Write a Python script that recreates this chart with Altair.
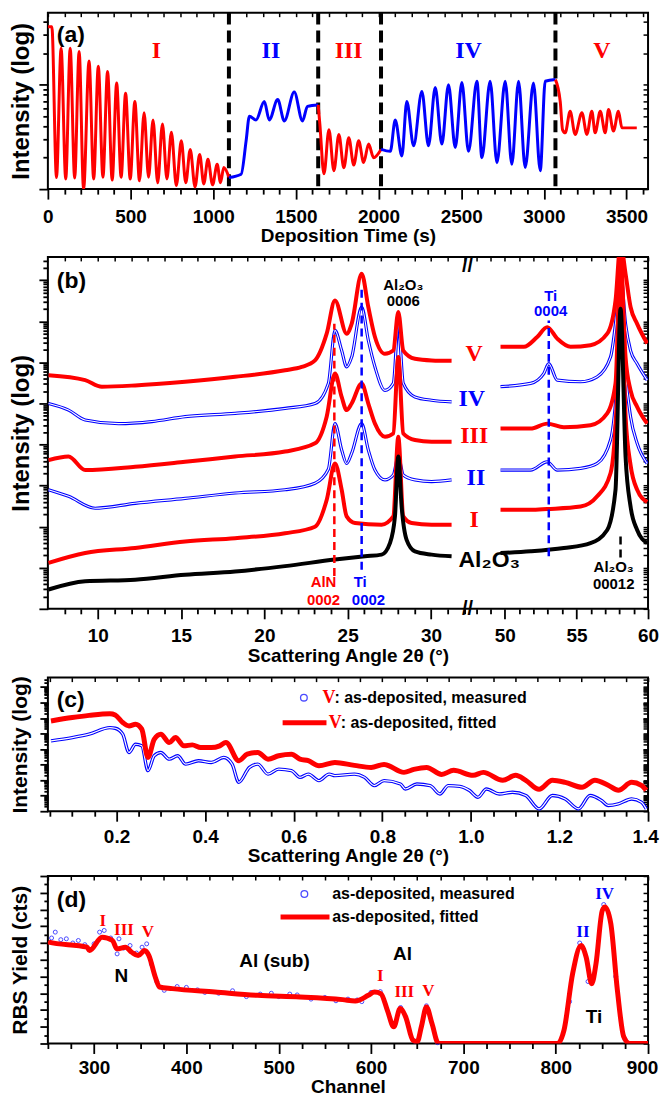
import math
import altair as alt
import pandas as pd

RED = "#ff0000"
BLUE = "#0000ff"
BLK = "#000000"
SANS = "Liberation Sans"
SERIF = "Liberation Serif"

W = 602
HA, HB, HC, HD = 177, 353, 134, 168

# ======================= (a) intensity vs deposition time =======================
a_I_peak_t = [24, 80, 135, 189, 249, 305, 361, 416, 470, 526, 582, 636, 693, 747, 807, 861, 918, 968, 1024, 1064]
a_I_peak_v = [36, 22.4, 22.4, 20.8, 16.9, 15.0, 13.4, 10.4, 8.3, 6.9, 5.4, 4.6, 4.2, 3.5, 2.9, 2.4, 2.15, 1.93, 1.73, 1.61]
a_I_trough_t = [52, 108, 162, 216, 277, 333, 389, 443, 498, 554, 609, 664, 720, 777, 834, 890, 943, 996, 1044]
a_I_trough_v = [1.29, 1.25, 1.28, 1.0, 1.25, 1.3, 1.22, 1.3, 1.25, 1.2, 1.3, 1.15, 1.25, 1.08, 1.15, 1.05, 1.12, 1.1, 1.15]
a_I_end_t = [0, 1095]
a_I_end_v = [36, 1.3]
a_II_t = [1095, 1169, 1199, 1219, 1259, 1309, 1339, 1390, 1430, 1490, 1540, 1570, 1635]
a_II_v = [1.29, 1.39, 2.9, 5.0, 4.6, 6.9, 4.6, 7.2, 4.5, 8.5, 4.5, 6.2, 6.4]
a_III_t = [1635, 1645, 1670, 1700, 1730, 1760, 1790, 1820, 1850, 1880, 1910, 1940, 1970, 2015]
a_III_v = [6.4, 4.2, 1.4, 3.7, 1.5, 3.34, 1.6, 3.1, 1.7, 2.9, 1.8, 2.7, 2.0, 2.4]
a_IV_t = [2015, 2071, 2101, 2141, 2171, 2212, 2262, 2302, 2343, 2383, 2423, 2464, 2504, 2544,
          2595, 2625, 2675, 2716, 2766, 2806, 2847, 2887, 2937, 2978, 3008, 3070]
a_IV_v = [2.4, 2.3, 4.6, 2.08, 6.9, 2.6, 8.6, 2.6, 9.4, 2.7, 10.0, 2.5, 10.5, 2.3,
          10.8, 2.0, 10.8, 1.79, 10.8, 1.73, 10.8, 1.61, 10.4, 1.5, 10.8, 11.2]
a_V_t = [3070, 3099, 3113, 3129, 3159, 3189, 3230, 3260, 3290, 3310, 3341, 3371, 3391, 3421, 3451, 3472, 3562]
a_V_v = [11.2, 6.9, 3.7, 3.46, 5.56, 3.34, 5.4, 3.34, 5.56, 3.46, 5.56, 3.46, 5.8, 3.6, 5.56, 3.86, 3.86]
a_dash_t = [1095, 1635, 2015, 3070]
a_lab_text = ["I", "II", "III", "IV", "V"]
a_lab_t = [657, 1349, 1819, 2544, 3351]
a_lab_v = [20.8, 20.8, 20.8, 20.8, 20.8]
a_lab_col = [RED, BLUE, RED, BLUE, RED]

# ======================= (b) XRD, broken axis =======================
BRK_L, BRK_R, RATIO = 32.2, 47.4, 0.86
b_K_L_deg = [7.04, 9.24, 12.24, 15.24, 18.24, 21.24, 24.24, 26.04, 27.04, 27.54, 27.84, 28.04, 28.24, 28.54, 29.04, 30.04, 31.24]
b_K_L_lg = [0.47, 0.67, 0.71, 0.83, 0.91, 1.04, 1.2, 1.28, 1.32, 1.6, 2.25, 3.71, 2.49, 1.68, 1.4, 1.32, 1.28]
b_K_R_deg = [49.7, 51.8, 54.12, 55.98, 57.15, 57.73, 58.08, 58.43, 58.78, 59.24, 59.94]
b_K_R_lg = [1.36, 1.4, 1.48, 1.6, 1.92, 2.9, 7.31, 3.71, 2.49, 1.92, 1.6]

b_I_L_deg = [7.04, 9.24, 12.24, 15.24, 18.24, 21.24, 23.04, 23.74, 24.24, 24.64, 24.94, 25.44, 27.04, 27.74, 28.04, 28.34, 28.84, 30.04, 31.24]
b_I_L_lg = [1.12, 1.36, 1.48, 1.64, 1.72, 1.84, 2.0, 2.65, 3.54, 2.9, 2.25, 2.09, 2.05, 2.25, 4.19, 2.25, 2.09, 2.05, 2.05]
b_I_R_deg = [49.7, 51.8, 52.96, 55.29, 56.45, 57.38, 57.85, 58.08, 58.43, 58.78, 59.24, 59.94]
b_I_R_lg = [2.41, 2.41, 2.43, 2.49, 2.74, 3.3, 5.32, 8.6, 4.7, 3.5, 2.9, 2.6]

b_II_L_deg = [7.04, 8.24, 9.84, 12.24, 15.24, 18.24, 21.24, 23.04, 23.84, 24.24, 24.64, 24.94, 25.24, 25.84, 26.24, 26.64, 27.24, 27.74, 28.04, 28.34, 29.04, 30.04, 31.24]
b_II_L_lg = [2.9, 2.74, 2.45, 2.57, 2.69, 2.82, 2.9, 3.06, 3.4, 4.51, 3.87, 3.54, 3.79, 4.51, 3.87, 3.38, 3.14, 3.26, 3.71, 3.26, 3.14, 3.1, 3.14]
b_II_R_deg = [49.7, 51.8, 52.96, 53.66, 55.29, 56.45, 57.38, 57.85, 58.08, 58.43, 58.78, 59.24, 59.94]
b_II_R_lg = [3.38, 3.38, 3.58, 3.38, 3.42, 3.54, 4.11, 5.73, 8.0, 5.73, 4.68, 4.03, 3.54]

b_III_L_deg = [7.04, 8.24, 9.24, 12.24, 15.24, 18.24, 21.24, 23.04, 23.74, 24.24, 24.64, 24.94, 25.24, 25.84, 26.24, 26.64, 27.24, 27.74, 28.04, 28.34, 29.04, 30.04, 31.24]
b_III_L_lg = [3.62, 3.71, 3.38, 3.46, 3.58, 3.71, 3.83, 4.03, 4.68, 5.73, 5.16, 4.84, 5.0, 5.49, 5.0, 4.51, 4.19, 4.27, 6.13, 4.27, 4.11, 4.07, 4.07]
b_III_R_deg = [49.7, 51.8, 52.96, 54.12, 55.98, 57.15, 57.73, 58.08, 58.43, 58.78, 59.24, 59.94]
b_III_R_lg = [4.39, 4.39, 4.51, 4.42, 4.47, 4.76, 5.49, 8.6, 6.13, 5.32, 4.92, 4.51]

b_IV_L_deg = [7.04, 8.24, 9.24, 11.24, 13.24, 15.24, 18.24, 21.24, 23.04, 23.84, 24.24, 24.64, 24.94, 25.24, 25.84, 26.24, 26.64, 27.24, 27.74, 28.04, 28.34, 29.04, 30.04, 31.24]
b_IV_L_lg = [5.0, 4.84, 4.6, 4.51, 4.56, 4.68, 4.76, 4.88, 5.0, 5.49, 6.78, 6.29, 5.89, 6.13, 7.35, 6.54, 5.89, 5.32, 5.49, 6.94, 5.49, 5.16, 5.08, 5.04]
b_IV_R_deg = [49.7, 51.8, 52.72, 53.07, 53.66, 55.29, 56.45, 57.38, 57.85, 58.08, 58.43, 58.78, 59.24, 59.94]
b_IV_R_lg = [5.41, 5.49, 5.73, 5.97, 5.57, 5.53, 5.65, 6.13, 7.35, 8.2, 6.94, 6.29, 5.97, 5.57]

b_V_L_deg = [7.04, 9.24, 10.24, 12.24, 15.24, 18.24, 21.24, 22.24, 23.04, 23.74, 24.24, 24.94, 25.24, 25.84, 26.24, 26.64, 27.24, 27.74, 28.04, 28.34, 29.04, 30.04, 31.24]
b_V_L_lg = [5.69, 5.57, 5.41, 5.44, 5.53, 5.65, 5.81, 5.89, 6.05, 6.7, 7.51, 6.7, 6.94, 8.16, 7.35, 6.62, 6.21, 6.29, 7.23, 6.29, 6.09, 6.05, 6.04]
b_V_R_deg = [49.7, 51.33, 52.26, 52.96, 53.66, 54.59, 55.98, 57.15, 57.73, 58.08, 58.43, 58.78, 59.24, 59.94]
b_V_R_lg = [6.38, 6.38, 6.62, 6.86, 6.58, 6.38, 6.42, 6.7, 7.51, 8.9, 8.16, 7.35, 6.94, 6.46]

b_dash_deg = [24.2, 25.84, 53.07, 58.08]
b_dash_lo = [0.8, 0.95, 1.28, 1.25]
b_dash_hi = [6.94, 7.84, 7.02, 1.84]
b_dash_col = [RED, BLUE, BLUE, BLK]

b_small_text = ["Al\u2082O\u2083", "0006", "Ti", "0004", "AlN", "0002", "Ti", "0002", "Al\u2082O\u2083", "00012"]
b_small_deg = [28.34, 28.34, 53.2, 53.2, 23.55, 23.55, 25.75, 26.25, 57.6, 57.6]
b_small_lg = [7.89, 7.5, 7.62, 7.25, 0.66, 0.22, 0.66, 0.22, 1.02, 0.6]
b_small_col = [BLK, BLK, BLUE, BLUE, RED, RED, BLUE, BLUE, BLK, BLK]
b_roman_text = ["V", "IV", "III", "II", "I"]
b_roman_u = [32.6, 32.45, 32.6, 32.7, 32.6]
b_roman_lg = [6.21, 5.12, 4.2, 3.18, 2.16]
b_roman_col = [RED, BLUE, RED, BLUE, RED]

# ======================= (c) XRR =======================
c_fit_x = [0.052, 0.10, 0.138, 0.185, 0.197, 0.214, 0.228, 0.243, 0.257, 0.271, 0.285, 0.30, 0.319, 0.333, 0.352,
           0.371, 0.39, 0.414, 0.433, 0.447, 0.476, 0.495, 0.519, 0.542, 0.566, 0.595, 0.614, 0.633, 0.657, 0.693,
           0.737, 0.775, 0.804, 0.849, 0.871, 0.9, 0.934, 0.961, 1.005, 1.028, 1.072, 1.101, 1.124, 1.154, 1.184,
           1.213, 1.251, 1.28, 1.31, 1.333, 1.363, 1.385, 1.396]
c_fit_lg = [5.81, 6.03, 6.17, 6.28, 6.2, 5.71, 5.49, 5.6, 5.28, 3.46, 4.63, 4.96, 4.42, 4.74, 4.21,
            4.27, 4.1, 4.1, 4.21, 4.42, 3.25, 3.67, 3.78, 3.35, 3.57, 3.67, 3.35, 3.25, 2.93, 3.14,
            2.95, 2.82, 3.01, 2.5, 2.69, 2.82, 2.37, 2.63, 2.31, 2.5, 1.99, 2.31, 1.99, 1.41, 1.99,
            1.86, 1.54, 1.99, 1.67, 1.35, 1.86, 1.67, 1.35]
c_meas_x = [0.052, 0.10, 0.138, 0.185, 0.197, 0.214, 0.228, 0.243, 0.257, 0.271, 0.285, 0.30, 0.319, 0.338, 0.356,
            0.385, 0.414, 0.442, 0.461, 0.476, 0.50, 0.519, 0.542, 0.566, 0.595, 0.614, 0.633, 0.657, 0.68, 0.693,
            0.737, 0.76, 0.782, 0.804, 0.841, 0.852, 0.878, 0.908, 0.93, 0.949, 0.975, 0.997, 1.016, 1.035, 1.064,
            1.094, 1.124, 1.154, 1.184, 1.213, 1.243, 1.269, 1.295, 1.31, 1.333, 1.363, 1.385, 1.396]
c_meas_lg = [4.53, 4.74, 4.96, 5.38, 5.34, 4.96, 3.78, 4.31, 4.21, 2.61, 3.57, 3.78, 3.35, 3.57, 3.03,
             3.25, 3.14, 3.46, 3.03, 1.86, 2.82, 3.03, 2.39, 2.71, 2.61, 2.18, 2.39, 1.97, 2.39, 2.29,
             2.39, 2.18, 1.65, 1.97, 1.75, 1.43, 1.75, 1.65, 1.11, 1.65, 1.6, 1.33, 0.9, 1.43, 1.11,
             1.22, 1.01, 0.15, 1.01, 0.79, 0.15, 1.01, 0.69, 0.37, 0.47, 0.79, 0.58, 0.15]

# ======================= (d) RBS =======================
d_fit_ch = [250, 251, 292.5, 295, 308.7, 320, 324.8, 334, 340.8, 347.8, 354.8, 359.4, 366.3, 370.9, 384.7,
            430.9, 477, 523, 569.2, 583, 597, 603.8, 610.7, 617.7, 624.6, 631.5, 637.5, 645.3, 650, 654.5,
            660, 666, 673, 802, 809, 818.3, 827.5, 833, 839, 843.6, 850.5, 853.5, 859.7, 866.8, 873.7, 880, 900]
d_fit_y = [12.2, 12.1, 11.5, 11.1, 12.7, 12.3, 11.3, 11.5, 10.9, 10.5, 11.1, 10.5, 7.94, 6.75, 6.55,
           6.15, 5.75, 5.56, 5.24, 5.08, 5.75, 6.15, 5.95, 3.96, 1.99, 4.17, 3.18, 0.4, 0.2, 2.0,
           4.37, 2.38, 0, 0, 1.59, 8.33, 11.7, 10.3, 7.14, 9.5, 15.9, 16.3, 14.3, 6.35, 0.8, 0, 0]
d_meas_ch = [254, 258, 264, 270, 277, 283, 290, 300, 306, 311, 318, 325, 327, 332, 339, 346, 352, 357, 362,
             368, 376, 390, 400, 412, 420, 435, 450, 465, 480, 492, 500, 512, 520, 535, 550, 562, 575,
             585, 590, 600, 610, 625, 632, 647, 660, 672, 815, 826, 835, 852, 865, 875]
d_meas_y = [12.6, 13.3, 12.4, 12.5, 12.0, 12.3, 11.8, 11.9, 13.3, 13.5, 12.6, 10.7, 12.5, 11.4, 11.7, 10.8, 11.5,
            11.9, 9.5, 7.4, 6.35, 6.8, 6.7, 6.4, 6.1, 6.0, 6.3, 5.6, 5.9, 6.0, 5.6, 5.9, 5.8, 5.3, 5.5, 5.1, 5.3,
            5.2, 5.0, 6.1, 6.2, 2.2, 4.3, 0.3, 4.5, 0.1, 5.0, 12.0, 7.4, 16.6, 8.0, 0.5]
d_lab_text = ["I", "III", "V", "N", "Al (sub)", "Al", "I", "III", "V", "II", "IV", "Ti"]
d_lab_ch = [309.5, 332.4, 358.4, 329.7, 495.4, 634, 610, 636, 662, 829.5, 853, 841.4]
d_lab_y = [14.6, 13.5, 13.3, 8.0, 9.9, 10.7, 8.0, 6.2, 6.3, 13.3, 17.9, 3.2]
d_lab_col = [RED, RED, RED, BLK, BLK, BLK, RED, RED, RED, BLUE, BLUE, BLK]
d_lab_serif = [True, True, True, False, False, False, True, True, True, True, True, False]


# ======================= helpers =======================
def cond(test, a, b):
    return {"condition": {"test": test, "value": a}, "value": b}


def axis_main(orient, values, major, fmt=None, title=None, tsize=19, big=10, small=5, tpad=1,
              lpad=8, last=None, loff=0):
    kw = dict(orient=orient, values=values, grid=False, domain=False, ticks=True, minExtent=0,
              tickColor=BLK, tickWidth=1.8, tickSize=cond(major, big, small))
    if fmt:
        kw.update(labels=True, labelExpr=f"({major}) ? {fmt} : ''", labelFontSize=19, labelPadding=lpad,
                  labelFont=SANS, labelFontWeight="bold", labelColor=BLK,
                  labelOverlap=False, labelFlush=False)
        if last:
            kw["labelOffset"] = cond(last, loff, 0)
    else:
        kw.update(labels=False)
    if title:
        kw.update(title=title, titleFontSize=tsize, titleFont=SANS, titleFontWeight="bold",
                  titlePadding=tpad, titleColor=BLK)
    else:
        kw["title"] = None
    return alt.Axis(**kw)


def axis_mirror(orient, values, size=5):
    return alt.Axis(orient=orient, values=values, grid=False, domain=False, ticks=True, tickColor=BLK,
                    tickWidth=1.5, tickSize=size, offset=-size, labels=False, title=None,
                    minExtent=0, maxExtent=0)


def frame(xs, ys, xm, ym, bottom, left, top, right):
    d = pd.DataFrame({"fx": [xm], "fy": [ym]})
    l1 = alt.Chart(d).mark_point(opacity=0).encode(
        x=alt.X("fx:Q", scale=xs, axis=bottom), y=alt.Y("fy:Q", scale=ys, axis=left))
    l2 = alt.Chart(d).mark_point(opacity=0).encode(
        x=alt.X("fx:Q", scale=xs, axis=top), y=alt.Y("fy:Q", scale=ys, axis=right))
    return [l1, l2]


def xy(xf, yf, xs, ys):
    return dict(x=alt.X(xf, scale=xs, axis=None), y=alt.Y(yf, scale=ys, axis=None))


def lgticks(top):
    out = []
    for dd in range(0, 10):
        for k in range(1, 10):
            v = dd + math.log10(k)
            if v <= top + 1e-9:
                out.append(round(v, 5))
    return out


LG_MAJOR = "abs(datum.value - round(datum.value)) < 0.0001"

# ======================= panel (a) =======================
xa = alt.Scale(domain=[0, 3630], nice=False, zero=False)
ya = alt.Scale(type="log", domain=[1, 49], nice=False)

rows = []


def add_seg(name, col, ts, vs):
    for i, (t, v) in enumerate(sorted(zip(ts, vs))):
        rows.append({"seg": name, "col": col, "i": i, "t": t, "v": v})


add_seg("I", RED, a_I_peak_t + a_I_trough_t + a_I_end_t, a_I_peak_v + a_I_trough_v + a_I_end_v)
add_seg("II", BLUE, a_II_t, a_II_v)
add_seg("III", RED, a_III_t, a_III_v)
add_seg("IV", BLUE, a_IV_t, a_IV_v)
add_seg("V", RED, a_V_t, a_V_v)
df_a = pd.DataFrame(rows)

a_lines = alt.Chart(df_a).mark_line(strokeWidth=3, interpolate="monotone", clip=True).encode(
    **xy("t:Q", "v:Q", xa, ya), color=alt.Color("col:N", scale=None), detail="seg:N", order="i:Q")
a_dash = alt.Chart(pd.DataFrame({"t": a_dash_t})).mark_rule(
    color=BLK, strokeWidth=4, strokeDash=[12, 6]).encode(
    x=alt.X("t:Q", scale=xa, axis=None), y=alt.value(0), y2=alt.value(HA))
a_lab = alt.Chart(pd.DataFrame({"t": a_lab_t, "v": a_lab_v, "txt": a_lab_text, "col": a_lab_col})).mark_text(
    font=SERIF, fontWeight="bold", fontSize=24).encode(
    **xy("t:Q", "v:Q", xa, ya), text="txt:N", color=alt.Color("col:N", scale=None))
a_tag = alt.Chart(pd.DataFrame({"t": [54], "v": [30], "txt": ["(a)"]})).mark_text(
    font=SANS, fontWeight="bold", fontSize=23, align="left", color=BLK).encode(
    **xy("t:Q", "v:Q", xa, ya), text="txt:N")

a_xt = list(range(0, 3601, 100))
a_yt = [1, 2, 3, 4, 5, 6, 7, 8, 9, 10, 20, 30, 40]
a_frame = frame(xa, ya, 1000, 5,
                axis_main("bottom", a_xt, "datum.value % 500 == 0", "format(datum.value, 'd')",
                          "Deposition Time (s)"),
                axis_main("left", a_yt, "datum.value == 1 || datum.value == 10", title="Intensity (log)",
                          tsize=24, big=9, small=5, tpad=5),
                axis_mirror("top", a_xt, 4), axis_mirror("right", a_yt, 5))
panel_a = alt.layer(a_dash, a_lines, a_lab, a_tag, *a_frame).resolve_axis(
    x="independent", y="independent").properties(width=W, height=HA)

# ======================= panel (b) =======================
U_MAX = BRK_L + (60 - BRK_R) * RATIO
xb = alt.Scale(domain=[7, U_MAX], nice=False, zero=False)
yb = alt.Scale(domain=[0, 8.57], nice=False, zero=False)
U_EXPR = f"datum.deg <= 40 ? datum.deg : {BRK_L} + (datum.deg - {BRK_R}) * {RATIO}"

brow = []
for name, kind, Ld, Ll, Rd, Rl in [
    ("II", "blue", b_II_L_deg, b_II_L_lg, b_II_R_deg, b_II_R_lg),
    ("IV", "blue", b_IV_L_deg, b_IV_L_lg, b_IV_R_deg, b_IV_R_lg),
    ("I", "red", b_I_L_deg, b_I_L_lg, b_I_R_deg, b_I_R_lg),
    ("III", "red", b_III_L_deg, b_III_L_lg, b_III_R_deg, b_III_R_lg),
    ("V", "red", b_V_L_deg, b_V_L_lg, b_V_R_deg, b_V_R_lg),
    ("K", "black", b_K_L_deg, b_K_L_lg, b_K_R_deg, b_K_R_lg),
]:
    for i, (dg, lg) in enumerate(zip(Ld, Ll)):
        brow.append({"seg": name + "L", "kind": kind, "i": i, "deg": dg, "lg": lg})
    for i, (dg, lg) in enumerate(zip(Rd, Rl)):
        brow.append({"seg": name + "R", "kind": kind, "i": i, "deg": dg, "lg": lg})
df_b = pd.DataFrame(brow)
bb = alt.Chart(df_b).transform_calculate(u=U_EXPR)


def bline(kind, color, width):
    return bb.transform_filter(f"datum.kind == '{kind}'").mark_line(
        strokeWidth=width, color=color, interpolate="monotone", clip=True).encode(
        **xy("u:Q", "lg:Q", xb, yb), detail="seg:N", order="i:Q")


b_blue_o = bline("blue", BLUE, 3.2)
b_blue_i = bline("blue", "#ffffff", 1.1)
b_red = bline("red", RED, 4)
b_blk = bline("black", BLK, 4)

b_dash = alt.Chart(pd.DataFrame({"deg": b_dash_deg, "lo": b_dash_lo, "hi": b_dash_hi, "col": b_dash_col})
                   ).transform_calculate(u=U_EXPR).mark_rule(strokeWidth=2.5, strokeDash=[8, 5]).encode(
    x=alt.X("u:Q", scale=xb, axis=None), y=alt.Y("lo:Q", scale=yb, axis=None), y2="hi:Q",
    color=alt.Color("col:N", scale=None))
b_small = alt.Chart(pd.DataFrame({"deg": b_small_deg, "lg": b_small_lg, "txt": b_small_text,
                                  "col": b_small_col})).transform_calculate(u=U_EXPR).mark_text(
    font=SANS, fontWeight="bold", fontSize=15).encode(
    **xy("u:Q", "lg:Q", xb, yb), text="txt:N", color=alt.Color("col:N", scale=None))
b_roman = alt.Chart(pd.DataFrame({"u": b_roman_u, "lg": b_roman_lg, "txt": b_roman_text,
                                  "col": b_roman_col})).mark_text(
    font=SERIF, fontWeight="bold", fontSize=24).encode(
    **xy("u:Q", "lg:Q", xb, yb), text="txt:N", color=alt.Color("col:N", scale=None))
b_sub = alt.Chart(pd.DataFrame({"u": [31.66], "lg": [1.19], "txt": ["Al\u2082O\u2083"]})).mark_text(
    font=SANS, fontWeight="bold", fontSize=23, align="left", color=BLK).encode(
    **xy("u:Q", "lg:Q", xb, yb), text="txt:N")
b_tag = alt.Chart(pd.DataFrame({"u": [7.54], "lg": [7.99], "txt": ["(b)"]})).mark_text(
    font=SANS, fontWeight="bold", fontSize=23, align="left", color=BLK).encode(
    **xy("u:Q", "lg:Q", xb, yb), text="txt:N")
b_brk_top = alt.Chart(pd.DataFrame({"u": [BRK_L], "lg": [8.57], "txt": ["//"]})).mark_text(
    font=SANS, fontWeight="bold", fontSize=20, color=BLK, baseline="top", dy=-1).encode(
    **xy("u:Q", "lg:Q", xb, yb), text="txt:N")
b_brk_bot = alt.Chart(pd.DataFrame({"u": [BRK_L], "lg": [0.0], "txt": ["//"]})).mark_text(
    font=SANS, fontWeight="bold", fontSize=20, color=BLK).encode(
    **xy("u:Q", "lg:Q", xb, yb), text="txt:N")

b_deg_ticks = list(range(8, 33)) + list(range(48, 61))
b_xt = [round(d if d <= 40 else BRK_L + (d - BRK_R) * RATIO, 5) for d in b_deg_ticks]
BACK = f"(datum.value > {BRK_L + 0.1} ? {BRK_R} + (datum.value - {BRK_L}) / {RATIO} : datum.value)"
b_yt = lgticks(8.57)
b_frame = frame(xb, yb, 20, 4,
                axis_main("bottom", b_xt, f"round({BACK}) % 5 == 0", f"format(round({BACK}), 'd')",
                          "Scattering Angle 2\u03b8 (\u00b0)"),
                axis_main("left", b_yt, LG_MAJOR, title="Intensity (log)", tsize=24, big=9, small=5, tpad=5),
                axis_mirror("top", b_xt, 4), axis_mirror("right", b_yt, 5))
panel_b = alt.layer(b_blue_o, b_blue_i, b_red, b_blk, b_dash, b_small, b_roman, b_sub, b_tag, b_brk_top,
                    b_brk_bot, *b_frame).resolve_axis(x="independent", y="independent").properties(
    width=W, height=HB)

# ======================= panel (c) =======================
xc = alt.Scale(domain=[0.045, 1.4], nice=False, zero=False)
yc = alt.Scale(domain=[0, 8.6], nice=False, zero=False)
df_cf = pd.DataFrame({"x": c_fit_x, "lg": c_fit_lg})
df_cm = pd.DataFrame({"x": c_meas_x, "lg": c_meas_lg})
c_m_o = alt.Chart(df_cm).mark_line(strokeWidth=3.4, color=BLUE, interpolate="monotone", clip=True).encode(
    **xy("x:Q", "lg:Q", xc, yc))
c_m_i = alt.Chart(df_cm).mark_line(strokeWidth=1.2, color="#ffffff", interpolate="monotone", clip=True).encode(
    **xy("x:Q", "lg:Q", xc, yc))
c_fit = alt.Chart(df_cf).mark_line(strokeWidth=5, color=RED, interpolate="monotone", clip=True).encode(
    **xy("x:Q", "lg:Q", xc, yc))
c_tag = alt.Chart(pd.DataFrame({"x": [0.065], "lg": [7.18], "txt": ["(c)"]})).mark_text(
    font=SANS, fontWeight="bold", fontSize=23, align="left", color=BLK).encode(
    **xy("x:Q", "lg:Q", xc, yc), text="txt:N")
c_leg_pt = alt.Chart(pd.DataFrame({"x": [0.623], "lg": [7.31]})).mark_point(
    shape="circle", filled=False, color=BLUE, size=45, strokeWidth=1.3).encode(**xy("x:Q", "lg:Q", xc, yc))
c_leg_ln = alt.Chart(pd.DataFrame({"x": [0.575], "x2": [0.674], "lg": [5.7]})).mark_rule(
    color=RED, strokeWidth=5).encode(**xy("x:Q", "lg:Q", xc, yc), x2="x2:Q")
c_leg_v = alt.Chart(pd.DataFrame({"x": [0.665, 0.679], "lg": [7.31, 5.7], "txt": ["V", "V"]})).mark_text(
    font=SERIF, fontWeight="bold", fontSize=18, align="left", color=RED).encode(
    **xy("x:Q", "lg:Q", xc, yc), text="txt:N")
c_leg_t = alt.Chart(pd.DataFrame({"x": [0.665, 0.679], "lg": [7.31, 5.7],
                                  "txt": [": as-deposited, measured", ": as-deposited, fitted"]})).mark_text(
    font=SANS, fontWeight="bold", fontSize=16, align="left", color=BLK, dx=12).encode(
    **xy("x:Q", "lg:Q", xc, yc), text="txt:N")
c_xt = [round(0.05 * k, 2) for k in range(1, 29)]
c_yt = lgticks(8.6)
c_frame = frame(xc, yc, 0.5, 4,
                axis_main("bottom", c_xt, "abs(datum.value * 5 - round(datum.value * 5)) < 0.001",
                          "format(datum.value, '.1f')", "Scattering Angle 2\u03b8 (\u00b0)",
                          tpad=0, lpad=6, last="datum.value > 1.39", loff=-3),
                axis_main("left", c_yt, LG_MAJOR, title="Intensity (log)", tsize=21, big=8, small=4, tpad=9),
                axis_mirror("top", c_xt, 4), axis_mirror("right", c_yt, 5))
panel_c = alt.layer(c_m_o, c_m_i, c_fit, c_tag, c_leg_pt, c_leg_ln, c_leg_v, c_leg_t, *c_frame).resolve_axis(
    x="independent", y="independent").properties(width=W, height=HC)

# ======================= panel (d) =======================
xd = alt.Scale(domain=[250, 900], nice=False, zero=False)
yd = alt.Scale(domain=[0, 20], nice=False, zero=False)
d_meas = alt.Chart(pd.DataFrame({"ch": d_meas_ch, "y": d_meas_y})).mark_point(
    shape="circle", filled=False, color=BLUE, size=16, strokeWidth=1).encode(**xy("ch:Q", "y:Q", xd, yd))
d_fit = alt.Chart(pd.DataFrame({"ch": d_fit_ch, "y": d_fit_y})).mark_line(
    strokeWidth=5, color=RED, interpolate="monotone", clip=True).encode(**xy("ch:Q", "y:Q", xd, yd))
df_dl = pd.DataFrame({"ch": d_lab_ch, "y": d_lab_y, "txt": d_lab_text, "col": d_lab_col, "serif": d_lab_serif})
d_lab_s = alt.Chart(df_dl[df_dl.serif]).mark_text(font=SERIF, fontWeight="bold", fontSize=17).encode(
    **xy("ch:Q", "y:Q", xd, yd), text="txt:N", color=alt.Color("col:N", scale=None))
d_lab_n = alt.Chart(df_dl[~df_dl.serif]).mark_text(font=SANS, fontWeight="bold", fontSize=19).encode(
    **xy("ch:Q", "y:Q", xd, yd), text="txt:N", color=alt.Color("col:N", scale=None))
d_tag = alt.Chart(pd.DataFrame({"ch": [259.7], "y": [17.1], "txt": ["(d)"]})).mark_text(
    font=SANS, fontWeight="bold", fontSize=23, align="left", color=BLK).encode(
    **xy("ch:Q", "y:Q", xd, yd), text="txt:N")
d_leg_pt = alt.Chart(pd.DataFrame({"ch": [527.8], "y": [17.86]})).mark_point(
    shape="circle", filled=False, color=BLUE, size=45, strokeWidth=1.3).encode(**xy("ch:Q", "y:Q", xd, yd))
d_leg_ln = alt.Chart(pd.DataFrame({"ch": [502], "ch2": [555], "y": [15.1]})).mark_rule(
    color=RED, strokeWidth=5).encode(**xy("ch:Q", "y:Q", xd, yd), x2="ch2:Q")
d_leg_t = alt.Chart(pd.DataFrame({"ch": [558, 558], "y": [17.86, 15.1],
                                  "txt": ["as-deposited, measured", "as-deposited, fitted"]})).mark_text(
    font=SANS, fontWeight="bold", fontSize=16, align="left", color=BLK).encode(
    **xy("ch:Q", "y:Q", xd, yd), text="txt:N")
d_xt = list(range(250, 901, 25))
d_yt = list(range(0, 21))
d_frame = frame(xd, yd, 500, 5,
                axis_main("bottom", d_xt, "datum.value % 100 == 0", "format(datum.value, 'd')", "Channel",
                          tpad=0, lpad=5, last="datum.value == 900", loff=-6),
                axis_main("left", d_yt, "datum.value % 2 == 0", title="RBS Yield (cts)", tsize=21, big=8,
                          small=4, tpad=9),
                axis_mirror("top", d_xt, 4), axis_mirror("right", d_yt, 5))
panel_d = alt.layer(d_meas, d_fit, d_lab_s, d_lab_n, d_tag, d_leg_pt, d_leg_ln, d_leg_t, *d_frame).resolve_axis(
    x="independent", y="independent").properties(width=W, height=HD)

chart = alt.vconcat(panel_a, panel_b, panel_c, panel_d, spacing=8).resolve_scale(
    x="independent", y="independent").properties(
    padding={"left": 0, "top": 0, "right": 0, "bottom": 0}).configure_view(stroke=BLK, strokeWidth=2)

chart.save("out.html", embed_options={"renderer": "svg", "actions": False})
